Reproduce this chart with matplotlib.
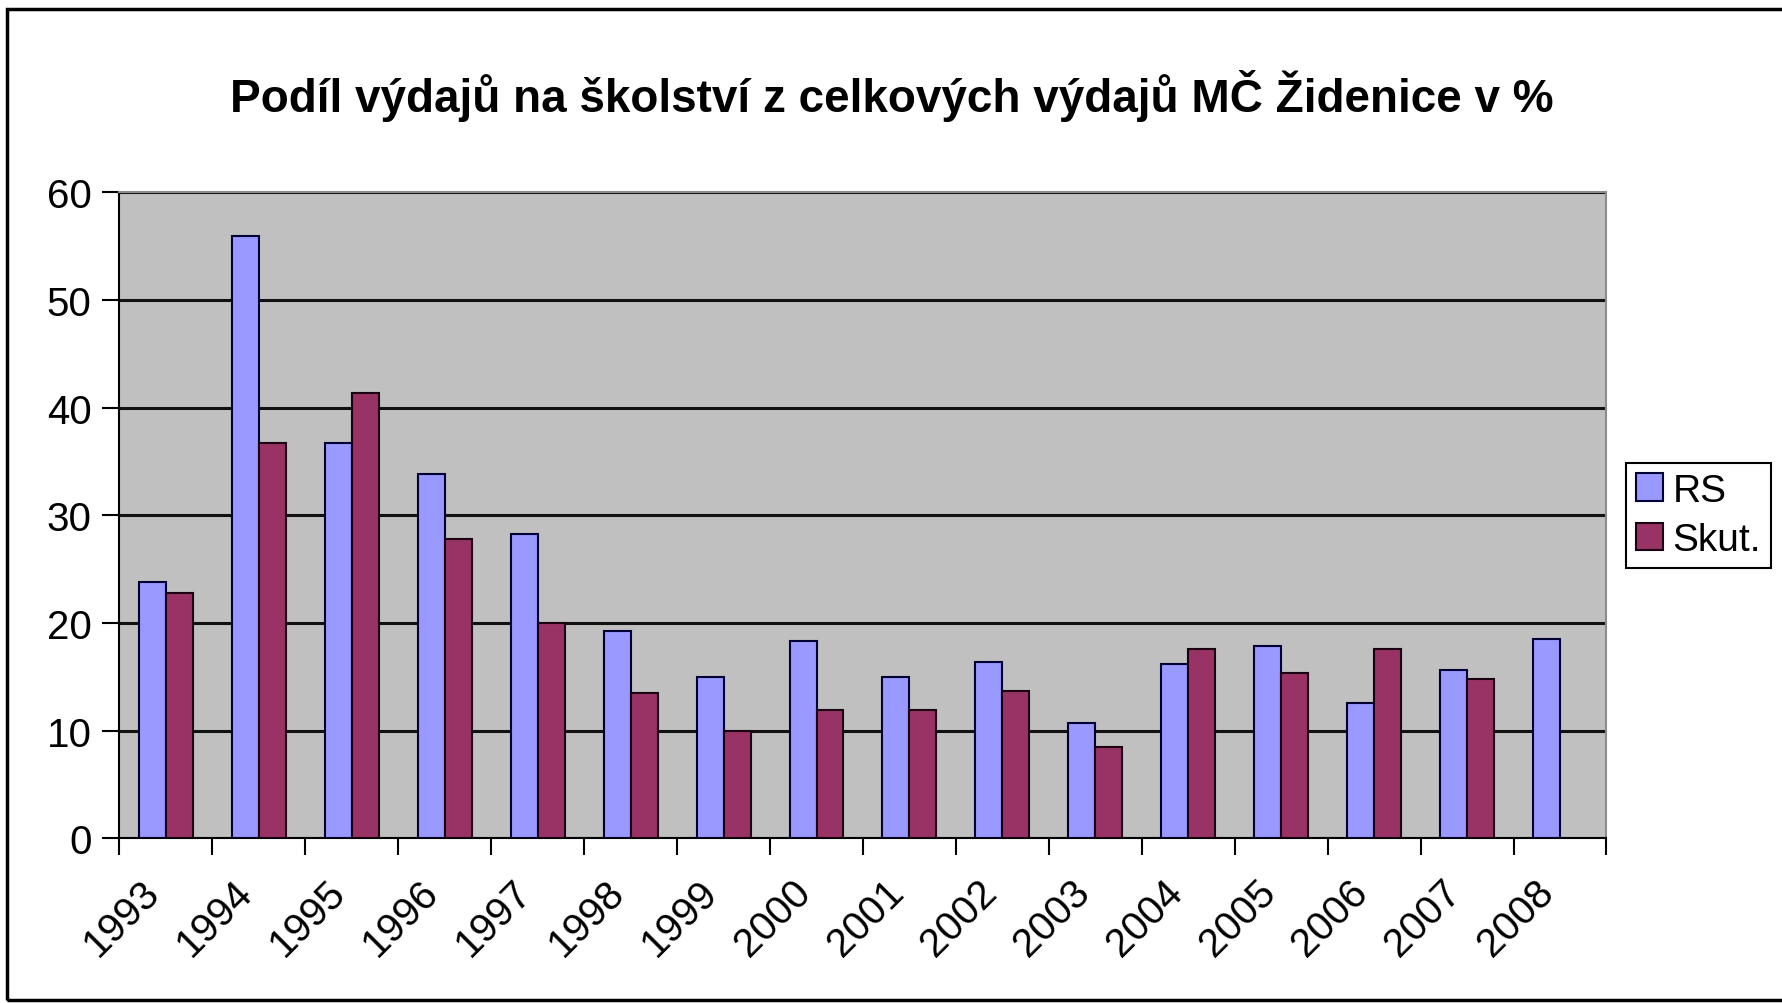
import numpy as np
import matplotlib.pyplot as plt
import matplotlib.transforms as mtransforms
from matplotlib.patches import Rectangle

# data
years = ['1993', '1994', '1995', '1996', '1997', '1998', '1999', '2000',
         '2001', '2002', '2003', '2004', '2005', '2006', '2007', '2008']
rs = [23.8, 55.9, 36.7, 33.8, 28.3, 19.3, 15.0, 18.3,
      15.0, 16.4, 10.7, 16.2, 17.9, 12.6, 15.6, 18.5]
skut = [22.8, 36.7, 41.4, 27.8, 20.0, 13.5, 10.0, 11.9,
        11.9, 13.7, 8.5, 17.6, 15.4, 17.6, 14.8, np.nan]

plt.rcParams['font.family'] = ['Liberation Sans', 'DejaVu Sans']

fig = plt.figure(figsize=(17.83, 10.04), dpi=100)
ax = fig.add_axes([0.067, 0.164, 0.834, 0.6435])
ax.set_facecolor('#C0C0C0')

x = np.arange(len(years))
w = 0.29
ax.bar(x - w/2, rs, w, color='#9999FF', edgecolor='#000033', linewidth=1.5, label='RS', zorder=3)
ax.bar(x + w/2, skut, w, color='#993366', edgecolor='#1a0010', linewidth=1.5, label='Skut.', zorder=3)

ax.set_xlim(-0.5, len(years) - 0.5)
ax.set_ylim(0, 60)
ax.set_yticks(np.arange(0, 61, 10))
ax.yaxis.grid(True, color='#111111', linewidth=2.2, zorder=1)

# ticks at category boundaries, labels at centers
ax.set_xticks(np.arange(-0.5, len(years)), minor=False)
ax.set_xticklabels([])
ax.set_xticks(x, minor=True)
ax.set_xticklabels(years, minor=True, rotation=45, ha='right', va='center',
                   rotation_mode='anchor', fontsize=29)
ax.tick_params(axis='x', which='minor', length=0, pad=34)
ax.tick_params(axis='x', which='major', length=12, width=1.5, direction='out')
ax.tick_params(axis='y', length=12, width=1.5, direction='out', labelsize=29, pad=8)
shift = mtransforms.ScaledTranslation(-0.12, 0, fig.dpi_scale_trans)
for lbl in ax.get_xticklabels(minor=True):
    lbl.set_transform(lbl.get_transform() + shift)

for s in ['top', 'right']:
    ax.spines[s].set_color('#8c8c8c')
    ax.spines[s].set_linewidth(1.5)
for s in ['left', 'bottom']:
    ax.spines[s].set_color('black')
    ax.spines[s].set_linewidth(1.5)

fig.text(0.5, 0.904, 'Podíl výdajů na školství z celkových výdajů MČ Židenice v %',
         ha='center', va='center', fontsize=33, fontweight='bold')

leg = ax.legend(loc='center left', bbox_to_anchor=(1.013, 0.5), fontsize=28,
                frameon=True, fancybox=False, edgecolor='black', framealpha=1,
                handlelength=0.7, handleheight=0.7, handletextpad=0.25,
                borderpad=0.25, labelspacing=0.35, borderaxespad=0)
leg.get_frame().set_linewidth(1.5)

# outer chart frame
fig.patches.append(Rectangle((0.004, 0.003), 1.2, 0.987, transform=fig.transFigure,
                             fill=False, edgecolor='black', linewidth=2.5))

fig.savefig('out.png', dpi=100)
